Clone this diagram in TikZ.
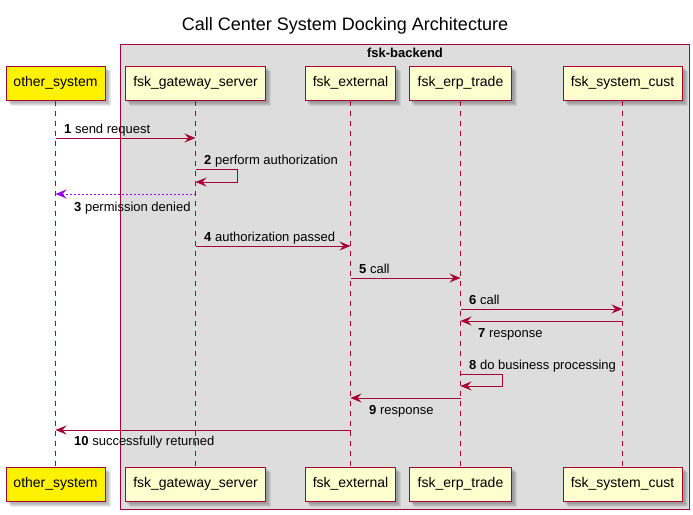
\documentclass[tikz,border=0pt]{standalone}
\usepackage{fontspec}
\setmainfont{Liberation Sans}
\usetikzlibrary{arrows.meta,backgrounds}
\definecolor{crim}{HTML}{A80036}
\definecolor{pfill}{HTML}{FEFECE}
\definecolor{boxgray}{HTML}{DDDDDD}
\definecolor{viol}{HTML}{9900EE}
\newcommand{\partshadow}[1]{%
  \foreach \s in {2,3,4,5}{%
    \fill[black, opacity=0.08] ([shift={(\s,\s)}]#1.north west) rectangle ([shift={(\s,\s)}]#1.south east);
  }}
\begin{document}
\begin{tikzpicture}[x=1pt,y=-1pt,
  part/.style={draw=crim, line width=1pt, fill=pfill, minimum height=34pt, inner sep=0pt,
    font=\fontsize{14}{16}\selectfont},
  lifeline/.style={draw=crim, line width=0.8pt, dash pattern=on 5pt off 5pt},
  msg/.style={draw=crim, line width=1pt, -{Stealth[length=11pt,width=9pt,inset=4pt]}},
  dmsg/.style={draw=viol, line width=1pt, dash pattern=on 2pt off 2pt, -{Stealth[length=11pt,width=9pt,inset=4pt]}},
  lbl/.style={anchor=base west, inner sep=0pt, font=\fontsize{13}{15}\selectfont},
  grp/.style={draw=crim, line width=1pt, fill=boxgray}]
\useasboundingbox (0,0) rectangle (693,514);
% participants top
\node[part, fill=yellow, minimum width=99pt] (os) at (55.5,83) {other\_system};
\node[part, minimum width=140pt] (gw) at (195.5,83) {fsk\_gateway\_server};
\node[part, minimum width=90pt] (ext) at (350.5,83) {fsk\_external};
\node[part, minimum width=102pt] (erp) at (460.5,83) {fsk\_erp\_trade};
\node[part, minimum width=119pt] (cust) at (622.5,83) {fsk\_system\_cust};
% participants bottom
\node[part, fill=yellow, minimum width=99pt] (osb) at (55.5,484) {other\_system};
\node[part, minimum width=140pt] (gwb) at (195.5,484) {fsk\_gateway\_server};
\node[part, minimum width=90pt] (extb) at (350.5,484) {fsk\_external};
\node[part, minimum width=102pt] (erpb) at (460.5,484) {fsk\_erp\_trade};
\node[part, minimum width=119pt] (custb) at (622.5,484) {fsk\_system\_cust};
\begin{scope}[on background layer]
  \fill[white] (0,0) rectangle (693,514);
  \node[grp, minimum width=569pt, minimum height=465pt, inner sep=0pt, anchor=north west] (backend) at (120,44) {};
  \foreach \n in {os,gw,ext,erp,cust,osb,gwb,extb,erpb,custb}{\partshadow{\n}}
\end{scope}
% title
\node[inner sep=0pt, font=\fontsize{18}{20}\selectfont] (title) at (345,26) {Call Center System Docking Architecture};
\node[inner sep=0pt, font=\fontsize{13}{15}\selectfont\bfseries] (backendlbl) at (405,53) {fsk-backend};
% lifelines
\draw[lifeline] (os.south) -- (osb.north);
\draw[lifeline] (gw.south) -- (gwb.north);
\draw[lifeline] (ext.south) -- (extb.north);
\draw[lifeline] (erp.south) -- (erpb.north);
\draw[lifeline] (cust.south) -- (custb.north);
% message rows
\coordinate (m1) at (0,138);
\coordinate (m2a) at (0,169);
\coordinate (m2b) at (0,182);
\coordinate (m3) at (0,194);
\coordinate (m4) at (0,246);
\coordinate (m5) at (0,278);
\coordinate (m6) at (0,309);
\coordinate (m7) at (0,321);
\coordinate (m8a) at (0,374);
\coordinate (m8b) at (0,386);
\coordinate (m9) at (0,398);
\coordinate (m10) at (0,430);
% 1
\draw[msg] (os |- m1) -- (gw |- m1);
\node[lbl] (l1) at (64,133) {\textbf{1} send request};
% 2
\draw[msg] (gw |- m2a) -- ++(42,0) |- (gw |- m2b);
\node[lbl] (l2) at (204,164) {\textbf{2} perform authorization};
% 3
\draw[dmsg] (gw |- m3) -- (os |- m3);
\node[lbl] (l3) at (74,211.5) {\textbf{3} permission denied};
% 4
\draw[msg] (gw |- m4) -- (ext |- m4);
\node[lbl] (l4) at (204,241) {\textbf{4} authorization passed};
% 5
\draw[msg] (ext |- m5) -- (erp |- m5);
\node[lbl] (l5) at (359,273) {\textbf{5} call};
% 6
\draw[msg] (erp |- m6) -- (cust |- m6);
\node[lbl] (l6) at (469,304) {\textbf{6} call};
% 7
\draw[msg] (cust |- m7) -- (erp |- m7);
\node[lbl] (l7) at (478,337.5) {\textbf{7} response};
% 8
\draw[msg] (erp |- m8a) -- ++(42,0) |- (erp |- m8b);
\node[lbl] (l8) at (469,369.5) {\textbf{8} do business processing};
% 9
\draw[msg] (erp |- m9) -- (ext |- m9);
\node[lbl] (l9) at (369,414.5) {\textbf{9} response};
% 10
\draw[msg] (ext |- m10) -- (os |- m10);
\node[lbl] (l10) at (74,445.5) {\textbf{10} successfully returned};
\end{tikzpicture}
\end{document}
